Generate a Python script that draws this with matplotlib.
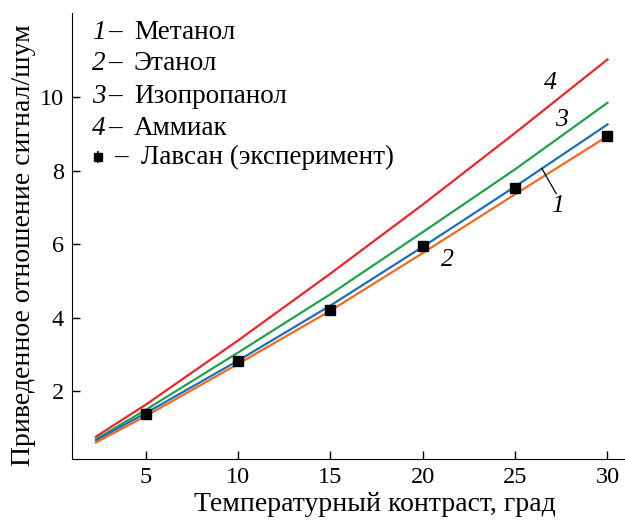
import matplotlib.pyplot as plt
import numpy as np

plt.rcParams['font.family'] = ['Liberation Serif', 'DejaVu Serif']

# температурный контраст, град
dT = [2.3, 5, 10, 15, 20, 25, 30]
methanol = [0.66, 1.40, 2.83, 4.33, 5.93, 7.57, 9.26]
ethanol = [0.60, 1.32, 2.74, 4.19, 5.76, 7.36, 8.94]
isopropanol = [0.69, 1.49, 3.05, 4.64, 6.33, 8.04, 9.85]
ammonia = [0.76, 1.63, 3.38, 5.20, 7.08, 9.03, 11.03]

# эксперимент (лавсан)
dT_exp = [5, 10, 15, 20, 25, 30]
lavsan = [1.38, 2.81, 4.22, 5.94, 7.54, 8.94]

fig = plt.figure(figsize=(6.25, 5.23), dpi=100)
ax = fig.add_axes([0.1152, 0.1224, 0.8848, 0.853])

ax.plot(dT, ammonia, color='#e8262b', lw=1.6)
ax.plot(dT, isopropanol, color='#1fa34a', lw=1.6)
ax.plot(dT, methanol, color='#1c6fb8', lw=1.6)
ax.plot(dT, ethanol, color='#f26a21', lw=1.6)
ax.plot(dT_exp, lavsan, 's', color='black', ms=7.5, zorder=5)

ax.set_xlim(1, 30.95)
ax.set_ylim(0.15, 12.3)
ax.set_xticks([5, 10, 15, 20, 25, 30])
ax.set_yticks([2, 4, 6, 8, 10])
ax.tick_params(direction='in', length=6, width=1, labelsize=17.5, pad=6)
ax.spines['top'].set_visible(False)
ax.spines['right'].set_visible(False)
ax.set_xlabel('Температурный контраст, град', fontsize=20)
ax.set_ylabel('Приведенное отношение сигнал/шум', fontsize=20)
ax.xaxis.set_label_coords(0.548, -0.074)
ax.yaxis.set_label_coords(-0.066, 0.48)

# подписи кривых
lab = dict(fontsize=18.5, style='italic', ha='center', va='center')
ax.text(26.9, 10.38, '4', **lab)
ax.text(27.5, 9.37, '3', **lab)
ax.text(27.3, 7.05, '1', **lab)
ax.text(21.35, 5.56, '2', **lab)
ax.plot([26.45, 27.22], [8.06, 7.38], color='black', lw=0.9)

# легенда
names = ['Метанол', 'Этанол', 'Изопропанол', 'Аммиак']
ys = [0.957, 0.886, 0.812, 0.740]
for i, (n, y) in enumerate(zip(names, ys)):
    ax.text(0.036, y, str(i + 1), transform=ax.transAxes, fontsize=19.5,
            style='italic', va='center')
    ax.text(0.066, y, '–', transform=ax.transAxes, fontsize=19.5,
            va='center')
    ax.text(0.112, y, n, transform=ax.transAxes, fontsize=19.5,
            va='center')
ax.errorbar([0.047], [0.677], yerr=[0.013], fmt='s', color='black', ms=6,
            capsize=0, lw=1.2, transform=ax.transAxes, clip_on=False)
ax.text(0.076, 0.677, '–', transform=ax.transAxes, fontsize=19.5,
        va='center')
ax.text(0.124, 0.677, 'Лавсан (эксперимент)', transform=ax.transAxes,
        fontsize=19.5, va='center')

fig.savefig('out.png', dpi=100)
